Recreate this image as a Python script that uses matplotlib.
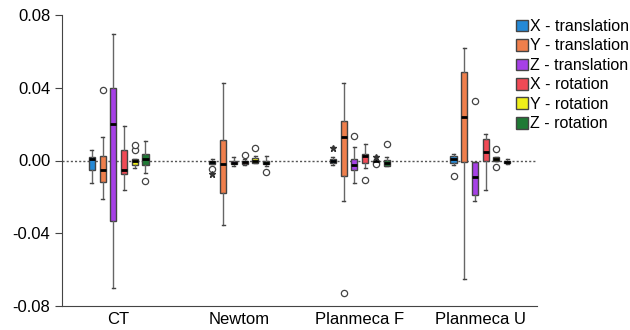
import numpy as np
import matplotlib
matplotlib.use("Agg")
import matplotlib.pyplot as plt
from matplotlib.patches import Patch

plt.rcParams['font.family'] = ['Liberation Sans', 'DejaVu Sans']

# Gruppen und Serien
gruppen = ['CT', 'Newtom', 'Planmeca F', 'Planmeca U']
serien = ['X - translation', 'Y - translation', 'Z - translation',
          'X - rotation', 'Y - rotation', 'Z - rotation']
farben = ['#2489d6', '#ef7f4c', '#a640e6', '#f04a55', '#eeee1a', '#1f7a35']

# Boxplot-Kennwerte, eine Zeile pro Serie, Spalten = Gruppen
q1 = [[-0.0054, -0.0017, -0.0013, -0.0013],
      [-0.0116, -0.0178, -0.0083, -0.0009],
      [-0.0335, -0.0020, -0.0050, -0.0188],
      [-0.0072, -0.0017, -0.0013, -0.0002],
      [-0.0024, -0.0011, -0.0013, -0.0002],
      [-0.0022, -0.0020, -0.0028, -0.0013]]
median = [[0.0009, -0.0006, -0.0004, 0.0006],
          [-0.0054, -0.0017, 0.0127, 0.0237],
          [0.0200, -0.0011, -0.0024, -0.0092],
          [-0.0054, -0.0009, 0.0024, 0.0044],
          [-0.0004, -0.0002, -0.0004, 0.0007],
          [0.0009, -0.0011, -0.0011, -0.0006]]
q3 = [[0.0018, -0.0002, 0.0006, 0.0024],
      [0.0024, 0.0112, 0.0217, 0.0489],
      [0.0399, 0.0000, 0.0006, -0.0007],
      [0.0059, 0.0000, 0.0033, 0.0116],
      [0.0006, 0.0011, 0.0000, 0.0017],
      [0.0033, -0.0002, 0.0002, -0.0002]]
whisker_unten = [[-0.0123, -0.0020, -0.0024, -0.0026],
                 [-0.0211, -0.0355, -0.0225, -0.0653],
                 [-0.0702, -0.0031, -0.0123, -0.0221],
                 [-0.0160, -0.0024, -0.0042, -0.0164],
                 [-0.0040, -0.0013, -0.0013, -0.0002],
                 [-0.0068, -0.0031, -0.0028, -0.0017]]
whisker_oben = [[0.0057, 0.0009, 0.0017, 0.0033],
                [0.0131, 0.0426, 0.0425, 0.0618],
                [0.0695, 0.0020, 0.0073, -0.0007],
                [0.0189, 0.0006, 0.0088, 0.0143],
                [0.0006, 0.0024, 0.0006, 0.0017],
                [0.0105, 0.0024, 0.0017, 0.0009]]
# Ausreisser (Kreise) und Extremwerte (Sterne)
ausreisser = [[[], [-0.0048], [], [-0.0087]],
              [[0.0388], [], [-0.0730], []],
              [[], [], [0.0132], [0.0327]],
              [[], [0.0029], [-0.0106], []],
              [[0.0059, 0.0087], [0.0068], [-0.0017], [0.0062, -0.0035]],
              [[-0.0112], [-0.0062], [0.0088], []]]
extremwerte = [[[], [-0.0072], [0.0066], []],
               [[], [], [], []],
               [[], [], [], []],
               [[], [], [], []],
               [[], [], [0.0020], []],
               [[], [], [], []]]

fig = plt.figure(figsize=(6.3, 3.3), dpi=100)
ax = fig.add_axes([62 / 630, 24 / 330, 475 / 630, 291 / 330])

x = np.arange(len(gruppen))
abstand = 0.089
breite = 0.05

# Nulllinie
ax.axhline(0, color='#555555', linestyle=(0, (1.5, 1.5)), linewidth=1, zorder=1)

for i, name in enumerate(serien):
    stats = []
    for j in range(len(gruppen)):
        stats.append({'q1': q1[i][j], 'med': median[i][j], 'q3': q3[i][j],
                      'whislo': whisker_unten[i][j], 'whishi': whisker_oben[i][j],
                      'fliers': ausreisser[i][j]})
    pos = x + (i - 2.5) * abstand
    ax.bxp(stats, positions=pos, widths=breite, patch_artist=True,
           manage_ticks=False,
           boxprops=dict(facecolor=farben[i], edgecolor='#444444', linewidth=1),
           medianprops=dict(color='black', linewidth=2),
           whiskerprops=dict(color='#666666', linewidth=1),
           capprops=dict(color='#444444', linewidth=1),
           flierprops=dict(marker='o', markersize=4.5, markerfacecolor='white',
                           markeredgecolor='#444444', markeredgewidth=0.9))
    for j in range(len(gruppen)):
        for w in extremwerte[i][j]:
            ax.plot(pos[j], w, marker='*', color='#333333', markersize=5, zorder=4)

ax.set_xlim(-0.47, 3.47)
ax.set_ylim(-0.08, 0.08)
ax.set_yticks([-0.08, -0.04, 0.0, 0.04, 0.08])
ax.set_yticklabels(['-0.08', '-0.04', '0.00', '0.04', '0.08'])
ax.set_xticks(x)
ax.set_xticklabels(gruppen)
ax.tick_params(axis='y', labelsize=12, length=5, color='#444444')
ax.tick_params(axis='x', labelsize=12, length=0, pad=4)
ax.spines['top'].set_visible(False)
ax.spines['right'].set_visible(False)
ax.spines['left'].set_color('#444444')
ax.spines['bottom'].set_color('#444444')

# Legende
griffe = [Patch(facecolor=farben[i], edgecolor='#444444', label=serien[i])
          for i in range(len(serien))]
fig.legend(handles=griffe, loc='upper left', bbox_to_anchor=(516 / 630, 1 - 19 / 330),
           frameon=False, fontsize=11.5, handlelength=0.75, handleheight=0.75,
           handletextpad=0.15, labelspacing=0.28, borderaxespad=0, borderpad=0)

fig.savefig('out.png', dpi=100)
